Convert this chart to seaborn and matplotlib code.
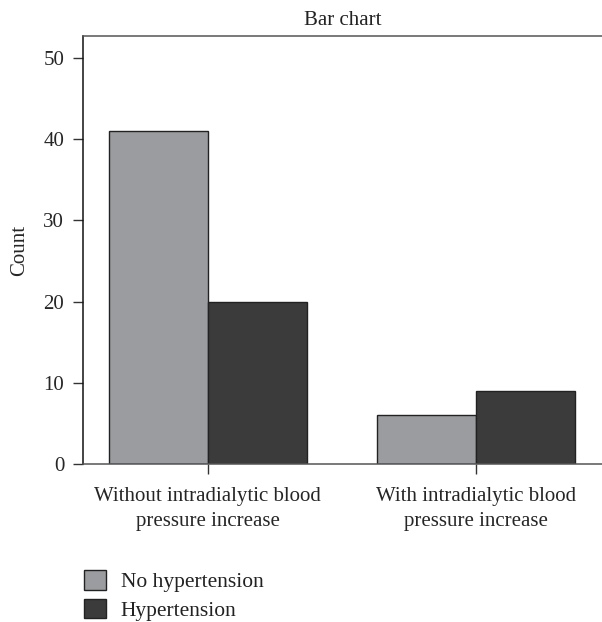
import matplotlib
matplotlib.use('Agg')
import matplotlib.pyplot as plt
import seaborn as sns
import pandas as pd

# data
groups = ['Without intradialytic blood\npressure increase',
          'With intradialytic blood\npressure increase']
status = ['No hypertension', 'Hypertension']
no_htn = [41, 6]
htn = [20, 9]
colors = ['#9b9c9f', '#3b3b3b']

df = pd.DataFrame({
    'group': groups * 2,
    'status': [status[0]] * 2 + [status[1]] * 2,
    'count': no_htn + htn,
})

sns.set_style('white')
plt.rcParams['font.family'] = ['Liberation Serif', 'DejaVu Serif']
plt.rcParams['text.color'] = '#222222'

fig = plt.figure(figsize=(6.02, 6.22), dpi=100)
ax = fig.add_axes([83 / 602, (622 - 464) / 622, 1 - 83 / 602, (464 - 36) / 622])

sns.barplot(data=df, x='group', y='count', hue='status', hue_order=status,
            palette=colors, width=0.74, gap=0, edgecolor='#222222', linewidth=1,
            saturation=1, ax=ax, legend=False)

ax.set_ylim(0, 52.7)
ax.set_xlim(-0.466, 1.47)
ax.set_yticks([0, 10, 20, 30, 40, 50])
ax.set_xlabel('')
ax.set_ylabel('Count', fontsize=15, labelpad=10)
ax.set_title('Bar chart', fontsize=15, pad=8)

for side in ['left', 'top', 'bottom']:
    ax.spines[side].set_visible(True)
    ax.spines[side].set_linewidth(1.1)
ax.spines['left'].set_color('#111111')
ax.spines['top'].set_color('#555555')
ax.spines['bottom'].set_color('#555555')
ax.spines['right'].set_visible(False)

ax.tick_params(axis='y', direction='out', length=7.5, width=1, color='#333333',
               labelsize=15, pad=6, left=True)
ax.tick_params(axis='x', direction='out', length=7.5, width=1, color='#333333',
               labelsize=15, pad=9, bottom=True)
for lbl in ax.get_xticklabels():
    lbl.set_multialignment('center')
    lbl.set_linespacing(1.4)

handles = [plt.Rectangle((0, 0), 1, 1, facecolor=c, edgecolor='#222222', linewidth=1)
           for c in colors]
fig.legend(handles, status, loc='lower left', bbox_to_anchor=(83 / 602, 0.0),
           frameon=False, fontsize=15.5, handlelength=1.0, handleheight=1.0,
           handletextpad=0.7, labelspacing=0.3, borderpad=0.05, borderaxespad=0)

fig.savefig('out.png', dpi=100)
